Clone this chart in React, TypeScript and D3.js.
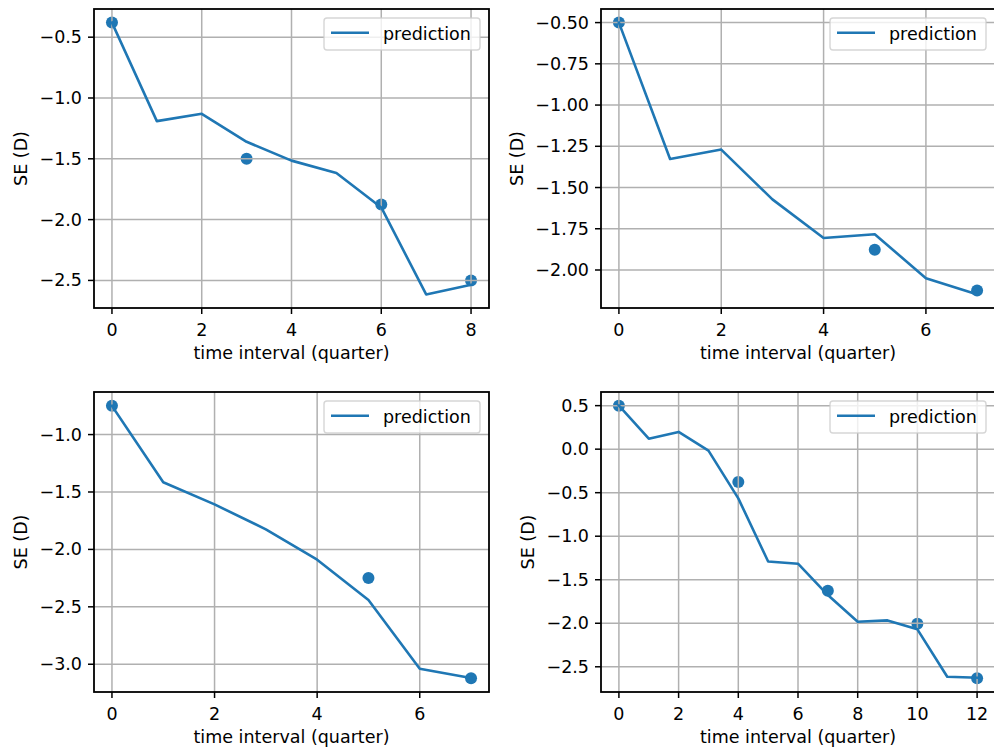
import React from "react";
import * as d3 from "d3";

// ---- data ----
const pred1 = [-0.38, -1.19, -1.13, -1.36, -1.515, -1.617, -1.9, -2.615, -2.535];
const obsX1 = [0, 3, 6, 8];
const obsY1 = [-0.38, -1.5, -1.875, -2.5];
const xTicks1 = [0, 2, 4, 6, 8];
const yTicks1 = [-0.5, -1.0, -1.5, -2.0, -2.5];

const pred2 = [-0.5, -1.327, -1.27, -1.572, -1.806, -1.783, -2.05, -2.148];
const obsX2 = [0, 5, 7];
const obsY2 = [-0.5, -1.877, -2.124];
const xTicks2 = [0, 2, 4, 6];
const yTicks2 = [-0.5, -0.75, -1.0, -1.25, -1.5, -1.75, -2.0];

const pred3 = [-0.75, -1.415, -1.608, -1.825, -2.09, -2.44, -3.04, -3.12];
const obsX3 = [0, 5, 7];
const obsY3 = [-0.748, -2.248, -3.123];
const xTicks3 = [0, 2, 4, 6];
const yTicks3 = [-1.0, -1.5, -2.0, -2.5, -3.0];

const pred4 = [0.5, 0.12, 0.198, -0.017, -0.565, -1.29, -1.316, -1.676, -1.983, -1.967, -2.07, -2.615, -2.626];
const obsX4 = [0, 4, 7, 10, 12];
const obsY4 = [0.5, -0.377, -1.626, -2.006, -2.633];
const xTicks4 = [0, 2, 4, 6, 8, 10, 12];
const yTicks4 = [0.5, 0.0, -0.5, -1.0, -1.5, -2.0, -2.5];

const xLabel = "time interval (quarter)";
const yLabel = "SE (D)";
const legendLabel = "prediction";

const BLUE = "#1f77b4";
const FONT = "'DejaVu Sans', sans-serif";
const FS = 17.5;

type PanelSpec = {
  pred: number[];
  obsX: number[];
  obsY: number[];
  xTicks: number[];
  yTicks: number[];
  yDec: number;
  left: number;
  right: number;
  top: number;
  bottom: number;
  yLabelOff: number;
};

const panels: PanelSpec[] = [
  { pred: pred1, obsX: obsX1, obsY: obsY1, xTicks: xTicks1, yTicks: yTicks1, yDec: 1, left: 94, right: 489, top: 9, bottom: 308, yLabelOff: 73 },
  { pred: pred2, obsX: obsX2, obsY: obsY2, xTicks: xTicks2, yTicks: yTicks2, yDec: 2, left: 601, right: 995, top: 9, bottom: 308, yLabelOff: 84.5 },
  { pred: pred3, obsX: obsX3, obsY: obsY3, xTicks: xTicks3, yTicks: yTicks3, yDec: 1, left: 94, right: 489, top: 392, bottom: 692, yLabelOff: 73 },
  { pred: pred4, obsX: obsX4, obsY: obsY4, xTicks: xTicks4, yTicks: yTicks4, yDec: 1, left: 601, right: 995, top: 392, bottom: 692, yLabelOff: 73 },
];

function Panel({ p, id }: { p: PanelSpec; id: number }) {
  const n = p.pred.length - 1;
  const xm = n * 0.05;
  const x = d3.scaleLinear().domain([-xm, n + xm]).range([p.left, p.right]);
  const allY = [...p.pred, ...p.obsY];
  const yMin = d3.min(allY)!;
  const yMax = d3.max(allY)!;
  const ym = (yMax - yMin) * 0.05;
  const y = d3.scaleLinear().domain([yMin - ym, yMax + ym]).range([p.bottom, p.top]);
  const line = d3
    .line<number>()
    .x((_, i) => x(i))
    .y((d) => y(d));
  const fmtY = d3.format(`.${p.yDec}f`);
  const fmtX = d3.format("d");
  const clipId = `clip${id}`;
  const lgW = 156;
  const lgH = 32;
  const lgX = p.right - 9 - lgW;
  const lgY = p.top + 9;
  const cx = (p.left + p.right) / 2;
  const cy = (p.top + p.bottom) / 2;
  return (
    <g>
      <defs>
        <clipPath id={clipId}>
          <rect x={p.left} y={p.top} width={p.right - p.left} height={p.bottom - p.top} />
        </clipPath>
      </defs>
      <rect x={p.left} y={p.top} width={p.right - p.left} height={p.bottom - p.top} fill="white" />
      {/* scatter (drawn below grid like matplotlib) */}
      <g clipPath={`url(#${clipId})`}>
        {p.obsX.map((xv, i) => (
          <circle key={i} cx={x(xv)} cy={y(p.obsY[i])} r={6} fill={BLUE} />
        ))}
      </g>
      {/* grid */}
      <g stroke="#b0b0b0" strokeWidth={1.5}>
        {p.xTicks.map((t) => (
          <line key={"gx" + t} x1={x(t)} x2={x(t)} y1={p.top} y2={p.bottom} />
        ))}
        {p.yTicks.map((t) => (
          <line key={"gy" + t} x1={p.left} x2={p.right} y1={y(t)} y2={y(t)} />
        ))}
      </g>
      {/* prediction line */}
      <path
        d={line(p.pred) || ""}
        fill="none"
        stroke={BLUE}
        strokeWidth={2.6}
        strokeLinejoin="round"
        strokeLinecap="square"
        clipPath={`url(#${clipId})`}
      />
      {/* spines */}
      <rect
        x={p.left}
        y={p.top}
        width={p.right - p.left}
        height={p.bottom - p.top}
        fill="none"
        stroke="black"
        strokeWidth={1.8}
      />
      {/* ticks */}
      <g stroke="black" strokeWidth={1.5}>
        {p.xTicks.map((t) => (
          <line key={"tx" + t} x1={x(t)} x2={x(t)} y1={p.bottom} y2={p.bottom + 6} />
        ))}
        {p.yTicks.map((t) => (
          <line key={"ty" + t} x1={p.left - 6} x2={p.left} y1={y(t)} y2={y(t)} />
        ))}
      </g>
      <g fontFamily={FONT} fontSize={FS} fill="black">
        {p.xTicks.map((t) => (
          <text key={"lx" + t} x={x(t)} y={p.bottom + 28} textAnchor="middle">
            {fmtX(t)}
          </text>
        ))}
        {p.yTicks.map((t) => (
          <text key={"ly" + t} x={p.left - 12} y={y(t)} textAnchor="end" dominantBaseline="central">
            {fmtY(t)}
          </text>
        ))}
        <text x={cx} y={p.bottom + 51} textAnchor="middle">
          {xLabel}
        </text>
        <text
          transform={`translate(${p.left - p.yLabelOff},${cy}) rotate(-90)`}
          textAnchor="middle"
          dominantBaseline="central"
        >
          {yLabel}
        </text>
      </g>
      {/* legend */}
      <g>
        <rect
          x={lgX}
          y={lgY}
          width={lgW}
          height={lgH}
          rx={3}
          fill="white"
          fillOpacity={0.8}
          stroke="#cccccc"
          strokeOpacity={0.8}
          strokeWidth={1.4}
        />
        <line x1={lgX + 7} x2={lgX + 45} y1={lgY + 14.7} y2={lgY + 14.7} stroke={BLUE} strokeWidth={2.6} />
        <text x={lgX + 59} y={lgY + 21.5} fontFamily={FONT} fontSize={FS} fill="black">
          {legendLabel}
        </text>
      </g>
    </g>
  );
}

export default function App() {
  return (
    <svg
      width={994}
      height={750}
      style={{ position: "absolute", left: 0, top: 0, background: "white" }}
    >
      <rect x={0} y={0} width={994} height={750} fill="white" />
      {panels.map((p, i) => (
        <Panel key={i} p={p} id={i} />
      ))}
    </svg>
  );
}
